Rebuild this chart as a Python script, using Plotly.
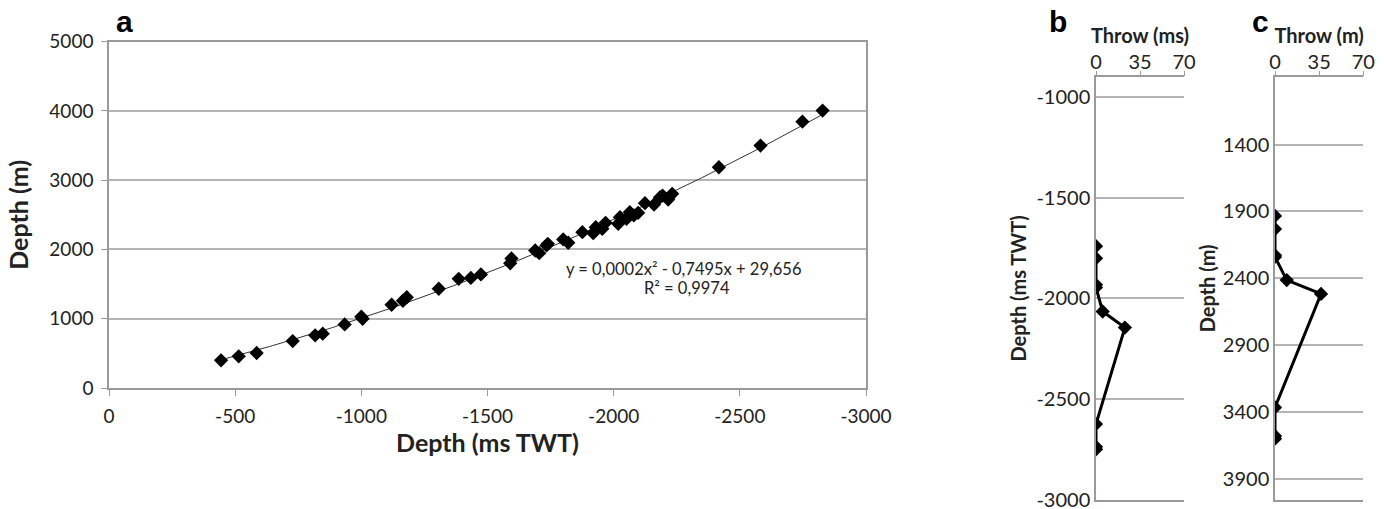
import numpy as np
import plotly.graph_objects as go

# ---- Panel a data: depth (ms TWT) vs depth (m)
twt_ms = [-444, -514, -585, -728, -817, -847, -934, -1000, -1005, -1120, -1165, -1180,
          -1307, -1386, -1434, -1474, -1590, -1595, -1689, -1705, -1734, -1739, -1800,
          -1820, -1876, -1919, -1929, -1955, -1968, -2018, -2025, -2051, -2064, -2080,
          -2097, -2124, -2160, -2184, -2194, -2216, -2232, -2417, -2582, -2748, -2828]
depth_m = [400, 457, 505, 678, 760, 784, 918, 1030, 1000, 1202, 1260, 1310,
           1433, 1577, 1590, 1640, 1800, 1870, 1985, 1947, 2058, 2082, 2145,
           2097, 2250, 2235, 2322, 2299, 2385, 2371, 2466, 2443, 2538, 2491,
           2529, 2668, 2649, 2755, 2779, 2721, 2803, 3187, 3500, 3846, 4005]

# ---- Panel b data: throw (ms) vs depth (ms TWT)
b_depth = [-1740, -1800, -1932, -1945, -2065, -2145, -2625, -2738, -2750]
b_throw = [0, 0, 0, 0, 5.3, 23, 0, 0, 0]

# ---- Panel c data: throw (m) vs depth (m)
c_depth = [1933, 2031, 2228, 2240, 2413, 2516, 3365, 3578, 3598]
c_throw = [0, 0, 0, 0, 9.3, 36.5, 0, 0, 0]

a_xticks = [0, -500, -1000, -1500, -2000, -2500, -3000]
a_yticks = [0, 1000, 2000, 3000, 4000, 5000]
b_yticks = [-1000, -1500, -2000, -2500, -3000]
c_yticks = [1400, 1900, 2400, 2900, 3400, 3900]
throw_ticks = [0, 35, 70]

# quadratic trend fitted to the panel-a points
coef = np.polyfit(twt_ms, depth_m, 2)
xs = np.linspace(min(twt_ms), max(twt_ms), 200)
ys = np.polyval(coef, xs)

FONT = "Lato"
GRID = "#b4b4b4"
AXL = "#9a9a9a"
TXT = "#222222"

fig = go.Figure()
fig.add_trace(go.Scatter(x=xs, y=ys, mode="lines", line=dict(color="#333333", width=1),
                         xaxis="x", yaxis="y", hoverinfo="skip"))
fig.add_trace(go.Scatter(x=twt_ms, y=depth_m, mode="markers",
                         marker=dict(symbol="diamond", size=11, color="black"),
                         xaxis="x", yaxis="y"))
fig.add_trace(go.Scatter(x=b_throw, y=b_depth, mode="lines+markers",
                         line=dict(color="black", width=3),
                         marker=dict(symbol="diamond", size=11, color="black"),
                         xaxis="x2", yaxis="y2"))
fig.add_trace(go.Scatter(x=c_throw, y=c_depth, mode="lines+markers",
                         line=dict(color="black", width=3),
                         marker=dict(symbol="diamond", size=11, color="black"),
                         xaxis="x3", yaxis="y3"))

W, H = 1384, 509
def px(x):
    return x / W
def py(y):
    return (H - y) / H

tickfont_a = dict(family=FONT, size=19, color=TXT)
tickfont_bc = dict(family=FONT, size=20, color=TXT)
titlefont_a = dict(family=FONT, size=25, color=TXT, weight="bold")
titlefont_bc = dict(family=FONT, size=20, color=TXT, weight="bold")

BC_BOTTOM = 499.5

fig.update_layout(
    width=W, height=H, showlegend=False,
    margin=dict(l=0, r=0, t=0, b=0, autoexpand=False),
    paper_bgcolor="white", plot_bgcolor="white",
    font=dict(family=FONT, color=TXT),
    xaxis=dict(domain=[px(109), px(866)], range=[0, -3000], automargin=False,
               tickvals=a_xticks, ticktext=[str(v) for v in a_xticks],
               ticks="outside", ticklen=6, tickcolor=AXL, showgrid=False, zeroline=False,
               showline=True, linecolor=AXL, linewidth=1.5, mirror=True,
               tickfont=tickfont_a, ticklabelstandoff=4,
               title=dict(text="Depth (ms TWT)", font=titlefont_a, standoff=0),
               anchor="y"),
    yaxis=dict(domain=[py(388), py(41.7)], range=[0, 5000], automargin=False,
               tickvals=a_yticks, ticktext=[str(v) for v in a_yticks],
               ticks="outside", ticklen=6, tickcolor=AXL, showgrid=True, gridcolor=GRID,
               gridwidth=1.5, zeroline=False, showline=True, linecolor=AXL, linewidth=1.5,
               mirror=True, tickfont=tickfont_a, ticklabelstandoff=4,
               title=dict(text="Depth (m)", font=titlefont_a, standoff=14),
               anchor="x"),
    xaxis2=dict(domain=[px(1096), px(1184)], range=[0, 70], side="top", automargin=False,
                tickvals=throw_ticks, ticktext=[str(v) for v in throw_ticks],
                ticks="outside", ticklen=5, tickcolor=AXL, showgrid=False, zeroline=False,
                showline=True, linecolor=AXL, linewidth=1.5, mirror=True,
                tickfont=tickfont_bc, ticklabelstandoff=-6,
                title=dict(text="Throw (ms)", font=titlefont_bc, standoff=0),
                anchor="y2"),
    yaxis2=dict(domain=[py(BC_BOTTOM), py(77.3)], range=[-3000, -900], automargin=False,
                tickvals=b_yticks, ticktext=[str(v) for v in b_yticks],
                ticks="", showgrid=True, gridcolor=GRID, gridwidth=1.5, zeroline=False,
                showline=True, linecolor=AXL, linewidth=1.5, tickfont=tickfont_bc,
                ticklabeloverflow="allow",
                title=dict(text="Depth (ms TWT)", font=titlefont_bc, standoff=4),
                anchor="x2"),
    xaxis3=dict(domain=[px(1275), px(1363.3)], range=[0, 70], side="top", automargin=False,
                tickvals=throw_ticks, ticktext=[str(v) for v in throw_ticks],
                ticks="outside", ticklen=5, tickcolor=AXL, showgrid=False, zeroline=False,
                showline=True, linecolor=AXL, linewidth=1.5, mirror=True,
                tickfont=tickfont_bc, ticklabelstandoff=-6,
                title=dict(text="Throw (m)", font=titlefont_bc, standoff=0),
                anchor="y3"),
    yaxis3=dict(domain=[py(BC_BOTTOM), py(77.3)], range=[4053, 897], automargin=False,
                tickvals=c_yticks, ticktext=[str(v) for v in c_yticks],
                ticks="", showgrid=True, gridcolor=GRID, gridwidth=1.5, zeroline=False,
                showline=True, linecolor=AXL, linewidth=1.5, tickfont=tickfont_bc,
                ticklabeloverflow="allow",
                title=dict(text="Depth (m)", font=titlefont_bc, standoff=2),
                anchor="x3"),
)

panel_font = dict(family="Liberation Sans", size=30, color="black", weight="bold")
for lab, x in (("a", 124), ("b", 1058), ("c", 1260)):
    fig.add_annotation(text=lab, x=px(x), y=py(21), xref="paper", yref="paper",
                       showarrow=False, font=panel_font, xanchor="center", yanchor="middle")

eq_font = dict(family=FONT, size=16.5, color=TXT)
fig.add_annotation(text="y = 0,0002x² - 0,7495x + 29,656", x=px(683), y=py(269),
                   xref="paper", yref="paper", showarrow=False, font=eq_font)
fig.add_annotation(text="R² = 0,9974", x=px(687), y=py(288),
                   xref="paper", yref="paper", showarrow=False, font=eq_font)

fig.write_html("out.html", post_script="document.body.style.margin='0';",
               config={"displayModeBar": False})
